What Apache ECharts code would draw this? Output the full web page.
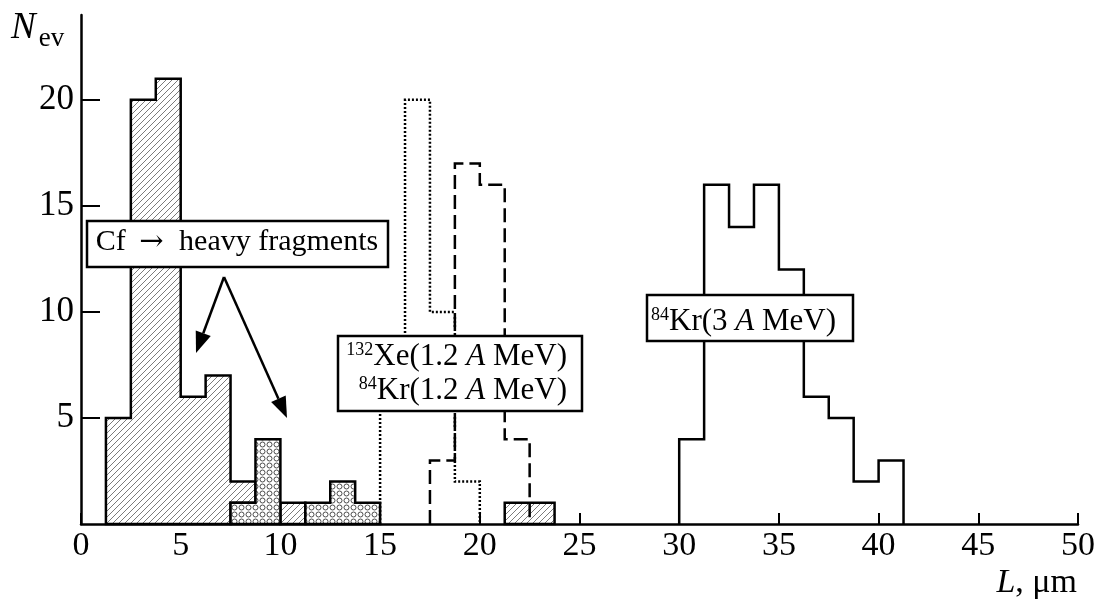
<!DOCTYPE html>
<html><head><meta charset="utf-8">
<script src="https://cdn.jsdelivr.net/npm/echarts@6/dist/echarts.min.js"></script>
<style>html,body{margin:0;padding:0;background:#fff}#c{width:1101px;height:600px}</style>
</head><body><div id="c"></div>
<script>
// ---------- data ----------
const BIN_WIDTH = 1.25;
const xTicks = [0, 5, 10, 15, 20, 25, 30, 35, 40, 45, 50];
const yTicks = [5, 10, 15, 20];
// Cf -> heavy fragments, hatched part (stacked on the circle-filled part)
const cfHatchStart = 1.25;
const cfHatchCounts = [5, 20, 21, 6, 7, 1, 0, 1, 0, 0, 0, 0, 0, 0, 0, 0, 1, 1];
// Cf -> heavy fragments, circle-filled part
const cfDotStart = 7.5;
const cfDotCounts = [1, 4, 0, 1, 2, 1];
// 132Xe (1.2 A MeV), dotted
const xe12Start = 15;
const xe12Counts = [7, 20, 10, 2];
// 84Kr (1.2 A MeV), dashed
const kr12Start = 17.5;
const kr12Counts = [3, 17, 16, 4];
// 84Kr (3 A MeV), solid
const kr3Start = 30;
const kr3Counts = [4, 16, 14, 16, 12, 6, 5, 2, 3];

// ---------- helpers ----------
const FONT = '"Liberation Serif","Times New Roman",serif';
function dotBase(x) {
  const i = Math.round((x - cfDotStart) / BIN_WIDTH);
  return (i >= 0 && i < cfDotCounts.length) ? cfDotCounts[i] : 0;
}
// filled polygons for contiguous runs of non-zero bins
function runPolygons(start, counts, baseFn) {
  const polys = [];
  let i = 0;
  while (i < counts.length) {
    if (!counts[i]) { i++; continue; }
    let j = i;
    while (j < counts.length && counts[j]) j++;
    const top = [], bot = [];
    for (let k = i; k < j; k++) {
      const x0 = start + k * BIN_WIDTH, x1 = x0 + BIN_WIDTH;
      const b = baseFn ? baseFn(x0) : 0;
      top.push([x0, b + counts[k]], [x1, b + counts[k]]);
      bot.unshift([x1, b], [x0, b]);
    }
    polys.push(top.concat(bot));
    i = j;
  }
  return polys;
}
function stepOutline(start, counts) {
  const pts = [[start, 0]];
  counts.forEach((c, k) => {
    const x0 = start + k * BIN_WIDTH;
    pts.push([x0, c], [x0 + BIN_WIDTH, c]);
  });
  pts.push([start + counts.length * BIN_WIDTH, 0]);
  return pts;
}
function hatchTile() {
  const s = 6, c = document.createElement('canvas');
  c.width = c.height = s;
  const g = c.getContext('2d');
  g.fillStyle = '#fff'; g.fillRect(0, 0, s, s);
  g.strokeStyle = '#333'; g.lineWidth = 0.65;
  g.beginPath();
  g.moveTo(0, s); g.lineTo(s, 0);
  g.moveTo(-1, 1); g.lineTo(1, -1);
  g.moveTo(s - 1, s + 1); g.lineTo(s + 1, s - 1);
  g.stroke();
  return c;
}
function circleTile() {
  const s = 7, c = document.createElement('canvas');
  c.width = c.height = s;
  const g = c.getContext('2d');
  g.fillStyle = '#fff'; g.fillRect(0, 0, s, s);
  g.strokeStyle = '#222'; g.lineWidth = 0.8;
  g.beginPath(); g.arc(3.5, 3.5, 2.5, 0, Math.PI * 2); g.stroke();
  return c;
}
function polySeries(polys, style, shapeType) {
  return {
    type: 'custom', silent: true, animation: false, clip: false,
    data: polys.map((p, i) => [i, 0]),
    renderItem: (params, api) => ({
      type: shapeType,
      shape: { points: polys[params.dataIndex].map(p => api.coord(p)) },
      style: style
    })
  };
}

const hatchFill = { image: hatchTile(), repeat: 'repeat' };
const circleFill = { image: circleTile(), repeat: 'repeat' };

const chart = echarts.init(document.getElementById('c'), null, { renderer: 'canvas' });
const option = {
  animation: false,
  backgroundColor: '#fff',
  grid: { left: 81, right: 23, top: 15, bottom: 76, containLabel: false },
  xAxis: {
    type: 'value', min: 0, max: 50, interval: 5,
    axisLine: { lineStyle: { color: '#000', width: 2.5 } },
    axisTick: { inside: true, length: 11, lineStyle: { color: '#000', width: 2 }, customValues: xTicks },
    axisLabel: { color: '#000', fontFamily: FONT, fontSize: 34, margin: 5, customValues: xTicks },
    splitLine: { show: false }
  },
  yAxis: {
    type: 'value', min: 0, max: 24, interval: 5,
    axisLine: { show: true, lineStyle: { color: '#000', width: 2.5 } },
    axisTick: { show: true, inside: true, length: 19, lineStyle: { color: '#000', width: 2 }, customValues: yTicks },
    axisLabel: { color: '#000', fontFamily: FONT, fontSize: 35, margin: 7, customValues: yTicks },
    splitLine: { show: false }
  },
  series: [
    polySeries(runPolygons(cfHatchStart, cfHatchCounts, dotBase),
      { fill: hatchFill, stroke: '#000', lineWidth: 2.5 }, 'polygon'),
    polySeries(runPolygons(cfDotStart, cfDotCounts, null),
      { fill: circleFill, stroke: '#000', lineWidth: 2.5 }, 'polygon'),
    polySeries([stepOutline(xe12Start, xe12Counts)],
      { fill: null, stroke: '#000', lineWidth: 2.5, lineDash: [2, 2] }, 'polyline'),
    polySeries([stepOutline(kr12Start, kr12Counts)],
      { fill: null, stroke: '#000', lineWidth: 2.5, lineDash: [14, 6] }, 'polyline'),
    polySeries([stepOutline(kr3Start, kr3Counts)],
      { fill: null, stroke: '#000', lineWidth: 2.5 }, 'polyline')
  ]
};
chart.setOption(option);

// ---------- annotations ----------
function arrow(x0, y0, x1, y1) {
  const dx = x1 - x0, dy = y1 - y0, L = Math.hypot(dx, dy);
  const ux = dx / L, uy = dy / L, len = 21, half = 8;
  const bx = x1 - ux * len, by = y1 - uy * len;
  return [
    { type: 'line', z: 100, shape: { x1: x0, y1: y0, x2: bx, y2: by }, style: { stroke: '#000', lineWidth: 2.5 } },
    { type: 'polygon', z: 100, shape: { points: [[x1, y1], [bx - uy * half, by + ux * half], [bx + uy * half, by - ux * half]] }, style: { fill: '#000' } }
  ];
}
function box(x, y, w, h) {
  return { type: 'rect', z: 100, shape: { x: x, y: y, width: w, height: h }, style: { fill: '#fff', stroke: '#000', lineWidth: 2.5 } };
}
const supStyle = { fontSize: 18, fontFamily: FONT, verticalAlign: 'top', padding: [0, 0, 7, 0] };
const mainStyle = { fontSize: 31, fontFamily: FONT };
const itStyle = { fontSize: 31, fontFamily: FONT, fontStyle: 'italic' };
const graphics = [
  box(87, 221, 301, 46),
  { type: 'text', z: 101, x: 237, y: 242, style: { text: '{m|Cf }{a|\u2192}{m| heavy fragments}', rich: { m: { fontSize: 30, fontFamily: FONT }, a: { fontSize: 29, fontFamily: '"DejaVu Serif",serif', padding: [0, 8, 0, 6] } }, fill: '#000', align: 'center', verticalAlign: 'middle' } },
  ...arrow(224, 277, 196, 353),
  ...arrow(224, 277, 287, 418),
  box(338, 336, 244, 75),
  { type: 'text', z: 101, x: 567, y: 357, style: { text: '{s|132}{m|Xe(1.2 }{i|A}{m| MeV)}', rich: { s: supStyle, m: mainStyle, i: itStyle }, fill: '#000', align: 'right', verticalAlign: 'middle' } },
  { type: 'text', z: 101, x: 567, y: 391, style: { text: '{s|84}{m|Kr(1.2 }{i|A}{m| MeV)}', rich: { s: supStyle, m: mainStyle, i: itStyle }, fill: '#000', align: 'right', verticalAlign: 'middle' } },
  box(647, 295, 206, 46),
  { type: 'text', z: 101, x: 651, y: 322, style: { text: '{s|84}{m|Kr(3 }{i|A}{m| MeV)}', rich: { s: supStyle, m: mainStyle, i: itStyle }, fill: '#000', align: 'left', verticalAlign: 'middle' } },
  { type: 'text', z: 101, x: 11, y: 31, style: { text: '{n|N}{e|ev}', rich: { n: { fontSize: 37, fontFamily: FONT, fontStyle: 'italic', verticalAlign: 'bottom', padding: [0, 3, 6, 0] }, e: { fontSize: 27, fontFamily: FONT, verticalAlign: 'bottom' } }, fill: '#000', align: 'left', verticalAlign: 'middle' } },
  { type: 'text', z: 101, x: 1077, y: 583, style: { text: '{i|L}{m|, \u03bcm}', rich: { i: { fontSize: 34, fontFamily: FONT, fontStyle: 'italic' }, m: { fontSize: 34, fontFamily: FONT } }, fill: '#000', align: 'right', verticalAlign: 'middle' } }
];
chart.setOption({ graphic: graphics });
</script>
</body></html>
